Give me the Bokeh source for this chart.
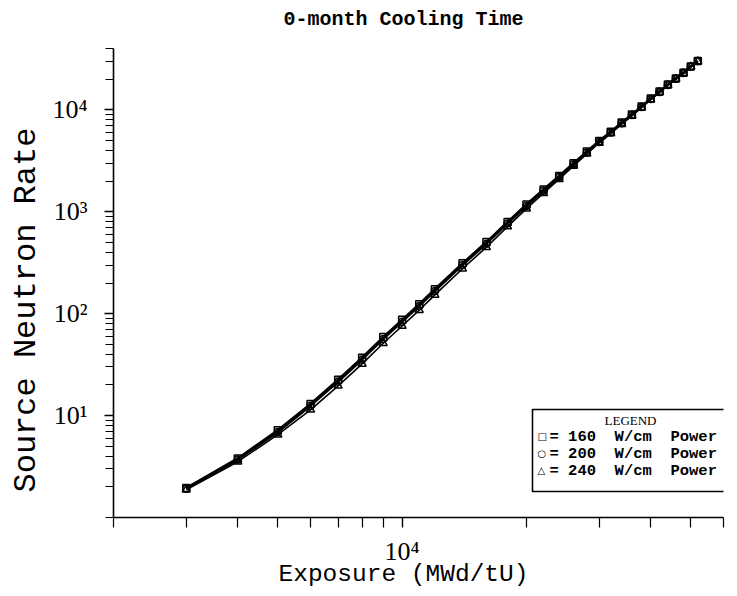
import math
from bokeh.plotting import figure
from bokeh.models import FixedTicker, Label, BoxAnnotation, Range1d, Title
from bokeh.embed import file_html
from bokeh.resources import INLINE

# ---- data ----
exposure = [3000, 4000, 5000, 6000, 7000, 8000, 9000, 10000, 11000, 12000,
            14000, 16000, 18000, 20000, 22000, 24000, 26000, 28000, 30000,
            32000, 34000, 36000, 38000, 40000, 42000, 44000, 46000, 48000,
            50000, 52000]
rate_160 = [1.95, 3.8, 7.2, 13.0, 22.5, 37.0, 59.0, 87.0, 124, 174,
            312, 505, 795, 1180, 1655, 2250, 3000, 3900, 4950,
            6100, 7500, 9000, 10800, 12900, 15100, 17700, 20300, 23100,
            26700, 30200]
rate_200 = [1.93, 3.7, 6.9, 12.5, 21.6, 35.5, 56.5, 83.5, 119, 167,
            300, 486, 768, 1142, 1605, 2190, 2925, 3810, 4850,
            5990, 7380, 8880, 10680, 12770, 14970, 17570, 20170, 22980,
            26600, 30100]
rate_240 = [1.87, 3.53, 6.5, 11.4, 19.6, 32.2, 51.3, 75.7, 108.5, 153,
            276, 449, 716, 1074, 1523, 2093, 2820, 3705, 4727,
            5856, 7238, 8730, 10530, 12640, 14870, 17430, 20100, 22870,
            26430, 29900]

x_major_ticks = [10000]
x_minor_ticks = [2000, 3000, 4000, 5000, 6000, 7000, 8000, 9000,
                 20000, 30000, 40000, 50000, 60000]
y_major_ticks = [10, 100, 1000, 10000]
y_minor_ticks = [1, 2, 3, 4, 5, 6, 7, 8, 9,
                 20, 30, 40, 50, 60, 70, 80, 90,
                 200, 300, 400, 500, 600, 700, 800, 900,
                 2000, 3000, 4000, 5000, 6000, 7000, 8000, 9000,
                 20000, 30000, 40000]
x_labels = {10000: "10\u2074"}
y_labels = {10: "10\u00b9", 100: "10\u00b2", 1000: "10\u00b3", 10000: "10\u2074"}

series_labels = ["160", "200", "240"]
title_text = "0-month Cooling Time"
x_title = "Exposure (MWd/tU)"
y_title = "Source Neutron Rate"

X0, X1 = 2000, 60000
Y0, Y1 = 1, 40000

# frame geometry (canvas pixels)
FL, FT, FW, FH = 113, 48, 610, 469

def px_x(px):
    """canvas pixel -> data x (annotation placement only)"""
    return X0 * (X1 / X0) ** ((px - FL) / FW)

def px_y(py):
    return Y0 * (Y1 / Y0) ** ((FT + FH - py) / FH)

p = figure(title=None, x_axis_type="log", y_axis_type="log",
           x_range=Range1d(X0, X1), y_range=Range1d(Y0, Y1),
           frame_width=FW, frame_height=FH,
           min_border_left=FL, min_border_right=6,
           min_border_top=FT, min_border_bottom=78,
           output_backend="svg", toolbar_location=None,
           background_fill_color="white", border_fill_color="white")
p.outline_line_color = None
p.grid.grid_line_color = None

# title: a blank spacer panel next to the frame, then the title text above it
p.add_layout(Title(text=" ", text_font="Liberation Mono", text_font_size="14px",
                   standoff=0), "above")
p.add_layout(Title(text=title_text, align="left", offset=170, standoff=0,
                   text_font="Liberation Mono", text_font_size="20px",
                   text_font_style="bold", text_color="black"), "above")

# axes
for ax in (p.xaxis[0], p.yaxis[0]):
    ax.axis_line_color = "black"
    ax.axis_line_width = 1.6
    ax.major_tick_line_color = "black"
    ax.minor_tick_line_color = "black"
    ax.major_tick_line_width = 1.4
    ax.minor_tick_line_width = 1.2
    ax.major_tick_in = 0
    ax.minor_tick_in = 0
    ax.major_label_text_font = "Liberation Serif"
    ax.major_label_text_font_size = "26px"
    ax.major_label_text_color = "black"

p.xaxis.ticker = FixedTicker(ticks=x_major_ticks, minor_ticks=x_minor_ticks)
p.yaxis.ticker = FixedTicker(ticks=y_major_ticks, minor_ticks=y_minor_ticks)
p.xaxis.major_label_overrides = x_labels
p.yaxis.major_label_overrides = y_labels
p.xaxis.major_tick_out = 10
p.xaxis.minor_tick_out = 10
p.yaxis.major_tick_out = 9
p.yaxis.minor_tick_out = 8
p.xaxis.major_label_standoff = 9
p.yaxis.major_label_standoff = 17

xlab = Title(text=x_title, align="left", offset=165, vertical_align="bottom",
             text_font="Liberation Mono", text_font_size="24.5px",
             text_font_style="normal", text_color="black", standoff=-20)
p.add_layout(xlab, "below")

ylab = Title(text=y_title, align="left", offset=25,
             text_font="Liberation Mono", text_font_size="32px",
             text_font_style="normal", text_color="black", standoff=10)
p.add_layout(ylab, "left")

# series
p.line(exposure, rate_240, line_color="black", line_width=1.6)
p.line(exposure, rate_200, line_color="black", line_width=2.4)
p.line(exposure, rate_160, line_color="black", line_width=2.4)
p.scatter(exposure, rate_240, marker="triangle", size=8, line_color="black",
          line_width=1.5, fill_alpha=0)
p.scatter(exposure, rate_200, marker="circle", size=7, line_color="black",
          line_width=1.5, fill_alpha=0)
p.scatter(exposure, rate_160, marker="square", size=7, line_color="black",
          line_width=1.5, fill_alpha=0)

# legend box (drawn manually to match the reference layout)
box = BoxAnnotation(left=px_x(532), right=px_x(728), top=px_y(409), bottom=px_y(491),
                    fill_alpha=0, line_color="black", line_width=1.6, line_alpha=1)
p.add_layout(box)
p.add_layout(Label(x=px_x(630), y=px_y(420), text="LEGEND", text_align="center",
                   text_baseline="middle", text_font="Liberation Serif",
                   text_font_size="13px", text_color="black"))
symbols = ["\u25a1", "\u25cb", "\u25b3"]
row_y = [436, 453, 470]
sp2 = "\u00a0\u00a0"
for sym, lab, ry in zip(symbols, series_labels, row_y):
    p.add_layout(Label(x=px_x(537), y=px_y(ry), text=sym, text_align="left",
                       text_baseline="middle", text_font="DejaVu Sans",
                       text_font_size="10px", text_color="black"))
    p.add_layout(Label(x=px_x(549), y=px_y(ry),
                       text="= " + lab + sp2 + "W/cm" + sp2 + "Power",
                       text_align="left", text_baseline="middle",
                       text_font="Liberation Mono", text_font_size="15.5px",
                       text_font_style="bold", text_color="black"))

open("out.html", "w").write(file_html(p, INLINE))
